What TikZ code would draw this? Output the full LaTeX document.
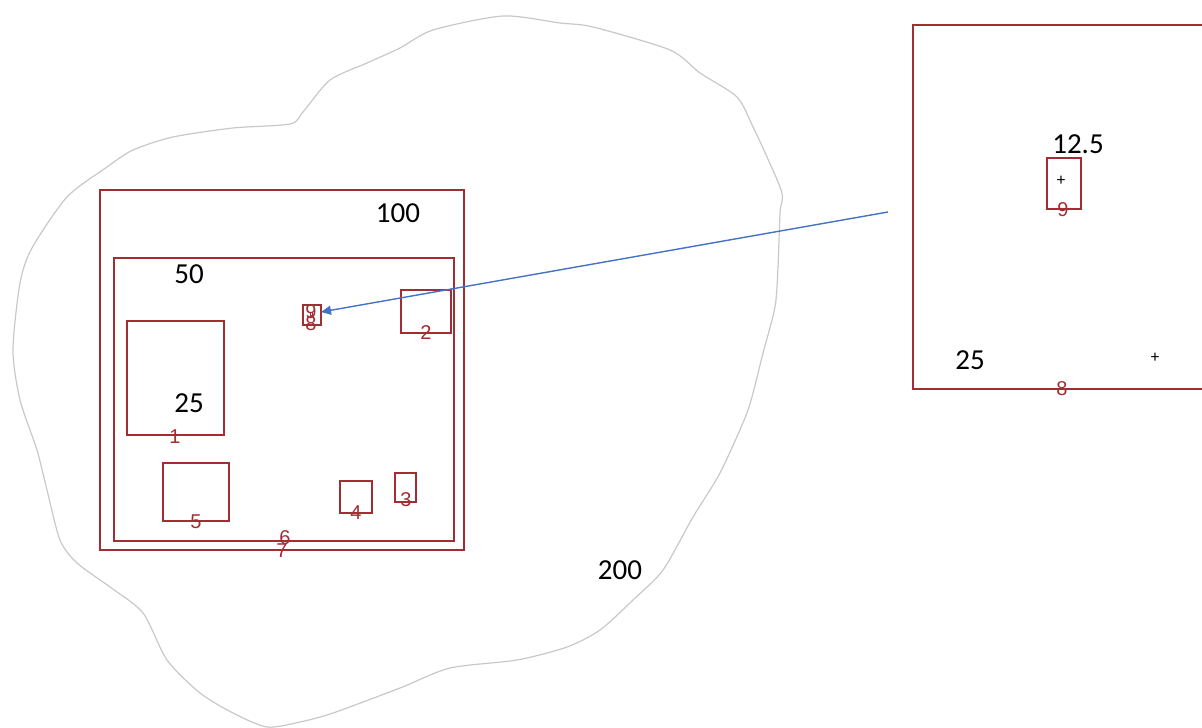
\documentclass[tikz,border=0pt]{standalone}
\usepackage{fontspec}
\setmainfont{Carlito}
\newfontfamily\idfont{Liberation Sans}
\usetikzlibrary{arrows.meta}
\definecolor{boxred}{RGB}{163,45,50}
\definecolor{zoomblue}{RGB}{68,114,196}
\definecolor{blobgray}{RGB}{200,200,200}
\tikzset{
	zone/.style={draw=boxred, line width=1pt},
	zoneid/.style={text=boxred, font=\idfont\fontsize{10}{10}\selectfont, inner sep=0pt},
	sizelabel/.style={font=\fontsize{14.5}{16}\selectfont, inner sep=0pt},
	cross/.style={font=\fontsize{8.5}{8.5}\selectfont, inner sep=0pt}
}
\begin{document}
\begin{tikzpicture}[x=0.5pt,y=-0.5pt]
			\useasboundingbox (0,0) rectangle (1202,727);
			\clip (0,0) rectangle (1202,727);
			% outline of the 200 region
			\draw[blobgray, line width=0.6pt] plot[smooth cycle, tension=0.45] coordinates {
				(503,16) (560,23) (593,27) (670,50) (700,73) (737,97) (753,127) (767,157)
				(782,193) (780,213) (778,267) (775,307) (763,353) (753,393) (745,418)
				(720,473) (693,517) (663,570) (633,600) (600,630) (567,647) (517,660)
				(450,668) (400,688) (333,713) (300,722) (267,727) (233,713) (200,693)
				(167,660) (143,613) (110,587) (77,563) (60,540) (47,490) (37,450)
				(20,400) (13,350) (20,283) (32,248) (67,197) (107,167) (133,150)
				(173,137) (233,128) (290,124) (303,112) (330,80) (367,63) (400,48) (433,30)};
			% the nested boxes
			\draw[zone] (100,190) rectangle (464,550);
			\draw[zone] (114,258) rectangle (454,541);
			\draw[zone] (127,321) rectangle (224,435);
			\draw[zone] (401,290) rectangle (451,333);
			\draw[zone] (395,473) rectangle (416,502);
			\draw[zone] (340,481) rectangle (372,513);
			\draw[zone] (163,463) rectangle (229,521);
			\draw[zone] (303,305) rectangle (321,325);
			\draw[zone, line width=0.6pt] (310.4,312.4) rectangle (312.2,315.2);
			% box ids
			\node[zoneid] (id1) at (175,437) {1};
			\node[zoneid] (id2) at (426,333) {2};
			\node[zoneid] (id3) at (406,500) {3};
			\node[zoneid] (id4) at (356,513) {4};
			\node[zoneid] (id5) at (196,522) {5};
			\node[zoneid] (id6) at (285,538) {6};
			\node[zoneid] (id7) at (282,551) {7};
			\node[zoneid] (id8) at (311,324) {8};
			\node[zoneid] (id9) at (311,312) {9};
			% sizes
			\node[sizelabel] (s100) at (398,213) {100};
			\node[sizelabel] (s50) at (189,274) {50};
			\node[sizelabel] (s25) at (189,403) {25};
			\node[sizelabel] (s200) at (620,570) {200};
			% enlarged view of box 8
			\draw[zone] (1215,25) -- (913,25) -- (913,389) -- (1215,389);
			\draw[zone] (1047,158) rectangle (1081,209);
			\node[zoneid] (zid9) at (1063,210) {9};
			\node[zoneid] (zid8) at (1062,389) {8};
			\node[sizelabel] (s125) at (1078,144) {12.5};
			\node[sizelabel] (sz25) at (970,360) {25};
			\node[cross] (c9) at (1061,181) {+};
			\node[cross] (c8) at (1155,358) {+};
			\coordinate (zoomtail) at (888,212);
			\coordinate (zoomtip) at (321,312);
			\draw[zoomblue, line width=0.7pt, -{Triangle[length=5pt,width=4.5pt]}] (zoomtail) -- (zoomtip);
		\end{tikzpicture}
\end{document}
